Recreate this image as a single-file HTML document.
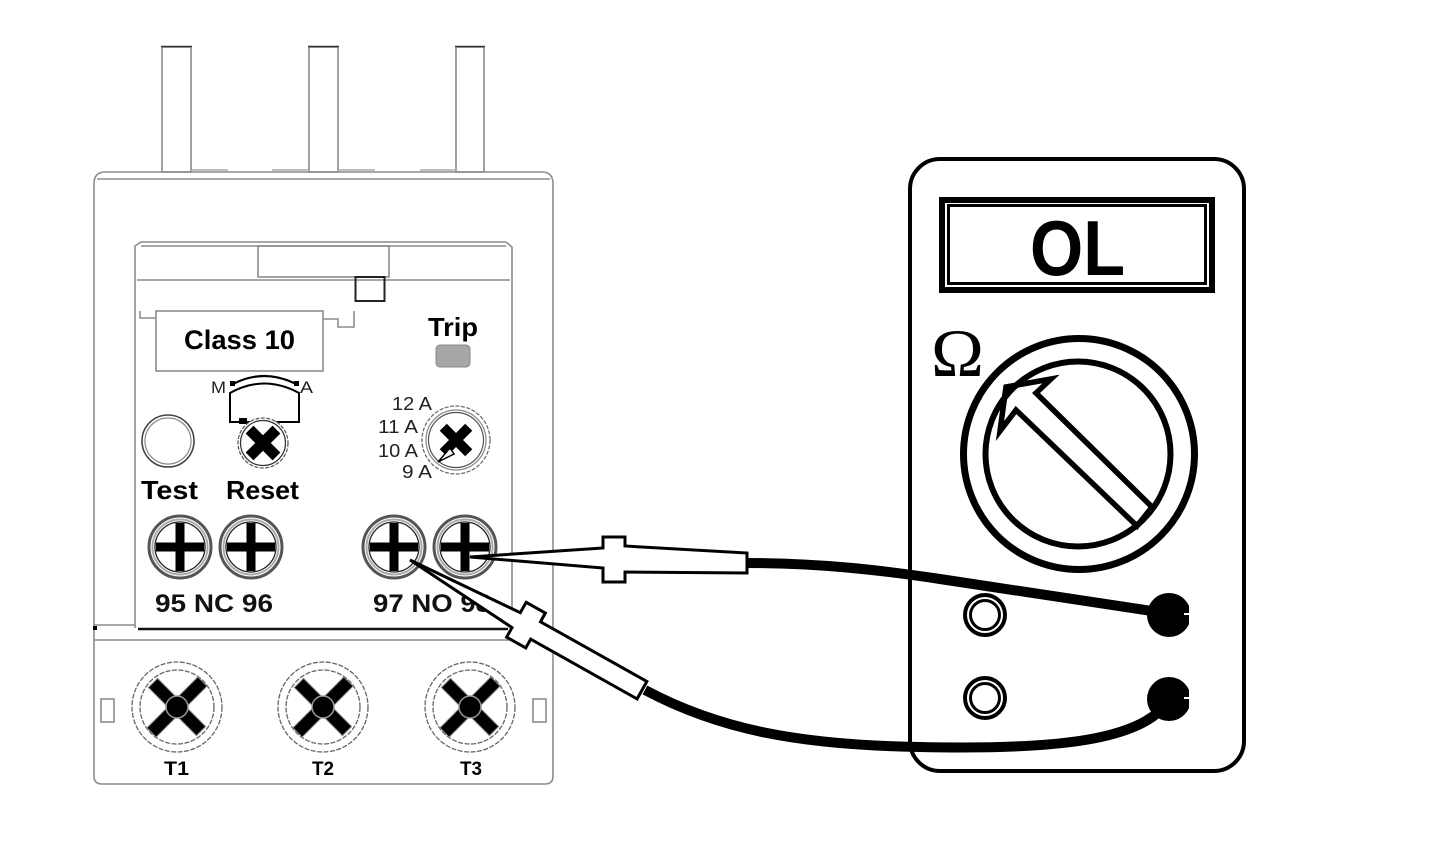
<!DOCTYPE html>
<html><head><meta charset="utf-8"><style>html,body{margin:0;padding:0;background:#fff;}svg{display:block;}</style></head>
<body>
<svg width="1445" height="844" viewBox="0 0 1445 844" xmlns="http://www.w3.org/2000/svg" font-family="Liberation Sans, sans-serif">
<defs>
  <g id="plus">
    <circle r="31" fill="#fff" stroke="#555" stroke-width="3"/>
    <circle r="27.5" fill="none" stroke="#aaa" stroke-width="2"/>
    <circle r="25" fill="none" stroke="#222" stroke-width="1.3"/>
    <rect x="-4.5" y="-24" width="9" height="48" fill="#000"/>
    <rect x="-24" y="-4.5" width="48" height="9" fill="#000"/>
  </g>
  <g id="tscrew">
    <circle r="45" fill="#fff" stroke="#666" stroke-width="1.3" stroke-dasharray="5 1.5"/>
    <circle r="37" fill="none" stroke="#666" stroke-width="1.3" stroke-dasharray="5 1.5"/>
    <g transform="rotate(45)" fill="#000" stroke="#888" stroke-width="1">
      <rect x="-6.5" y="-36" width="13" height="72"/>
      <rect x="-34" y="-6.5" width="68" height="13"/>
    </g>
    <circle r="11" fill="#000" stroke="#999" stroke-width="1.5"/>
  </g>
  <clipPath id="jackclip"><rect x="1100" y="560" width="89" height="200"/></clipPath>
</defs>
<rect width="1445" height="844" fill="#fff"/>

<!-- pins -->
<g fill="#fff" stroke="#8a8a8a" stroke-width="1.6">
  <rect x="162" y="47" width="29" height="125"/>
  <rect x="309" y="47" width="29" height="125"/>
  <rect x="456" y="47" width="28" height="125"/>
</g>
<g stroke="#333" stroke-width="1.5">
  <line x1="161" y1="46.5" x2="192" y2="46.5"/>
  <line x1="308" y1="46.5" x2="339" y2="46.5"/>
  <line x1="455" y1="46.5" x2="485" y2="46.5"/>
</g>
<g stroke="#aaa" stroke-width="1.5">
  <line x1="191" y1="170" x2="228" y2="170"/>
  <line x1="272" y1="170" x2="309" y2="170"/>
  <line x1="338" y1="170" x2="375" y2="170"/>
  <line x1="420" y1="170" x2="456" y2="170"/>
</g>

<!-- relay body -->
<g fill="none" stroke="#8c8c8c" stroke-width="1.6">
  <path d="M94,184 Q94,172 105,172 L542,172 Q553,172 553,184 L553,776 Q553,784 545,784 L102,784 Q94,784 94,776 Z"/>
  <line x1="97" y1="179" x2="550" y2="179"/>
  <path d="M135,628 L135,246 L141,242 L506,242 L512,247 L512,628"/>
  <line x1="141" y1="246" x2="506" y2="246"/>
  <line x1="137" y1="280" x2="510" y2="280"/>
  <rect x="258" y="246" width="131" height="31"/>
  <line x1="94" y1="625" x2="135" y2="625"/>
  <line x1="94" y1="640" x2="553" y2="640"/>
  <rect x="156" y="311" width="167" height="60"/>
  <polyline points="140,311 140,318 156,318"/>
  <polyline points="323,319 338,319 338,327 354,327 354,311"/>
  <rect x="101" y="699" width="13" height="23"/>
  <rect x="533" y="699" width="13" height="23"/>
</g>
<rect x="355.5" y="277" width="29" height="24" fill="none" stroke="#222" stroke-width="2"/>
<line x1="138" y1="629" x2="508" y2="629" stroke="#111" stroke-width="2.5"/>
<rect x="93" y="626" width="4" height="4" fill="#000"/>

<!-- labels top -->
<text x="184" y="349" font-size="27" font-weight="bold" textLength="111" lengthAdjust="spacingAndGlyphs">Class 10</text>
<text x="428" y="336" font-size="26" font-weight="bold" textLength="50" lengthAdjust="spacingAndGlyphs">Trip</text>
<rect x="436" y="345" width="34" height="22" rx="4" fill="#a6a6a6" stroke="#888" stroke-width="1"/>

<!-- M/A selector -->
<text x="211" y="393" font-size="17" textLength="15" lengthAdjust="spacingAndGlyphs" fill="#222">M</text>
<text x="300" y="393" font-size="17" textLength="13" lengthAdjust="spacingAndGlyphs" fill="#222">A</text>
<path d="M233,384 Q264,368 296,384" fill="none" stroke="#000" stroke-width="2.2"/>
<rect x="230" y="381" width="5" height="5" fill="#000"/>
<rect x="294" y="381" width="5" height="5" fill="#000"/>
<path d="M230,422 L230,393 Q264,374 299,393 L299,422 Z" fill="#fff" stroke="#000" stroke-width="2"/>
<rect x="239" y="418" width="8" height="6" fill="#000"/>

<!-- Test button -->
<circle cx="168" cy="441" r="26" fill="#fff" stroke="#444" stroke-width="1.6"/>
<circle cx="168" cy="441" r="23" fill="none" stroke="#888" stroke-width="1.2"/>

<!-- Reset screw -->
<g transform="translate(263,443)">
  <circle r="25" fill="#fff" stroke="#555" stroke-width="1.2" stroke-dasharray="4 1.5"/>
  <circle r="22.5" fill="none" stroke="#333" stroke-width="1.2"/>
  <g transform="rotate(45)" fill="#000">
    <rect x="-5.5" y="-19" width="11" height="38"/>
    <rect x="-19" y="-5.5" width="38" height="11"/>
  </g>
</g>

<!-- Dial -->
<text x="392" y="410" font-size="18" textLength="40" lengthAdjust="spacingAndGlyphs" fill="#222">12 A</text>
<text x="378" y="433" font-size="18" textLength="40" lengthAdjust="spacingAndGlyphs" fill="#222">11 A</text>
<text x="378" y="457" font-size="18" textLength="40" lengthAdjust="spacingAndGlyphs" fill="#222">10 A</text>
<text x="402" y="478" font-size="18" textLength="30" lengthAdjust="spacingAndGlyphs" fill="#222">9 A</text>
<g transform="translate(456,440)">
  <circle r="34" fill="#fff" stroke="#666" stroke-width="1.2" stroke-dasharray="4 1.5"/>
  <circle r="30" fill="none" stroke="#888" stroke-width="1.2"/>
  <circle r="27.5" fill="none" stroke="#555" stroke-width="1.2"/>
  <g transform="rotate(45)" fill="#000">
    <rect x="-5" y="-18" width="10" height="36"/>
    <rect x="-18" y="-5" width="36" height="10"/>
  </g>
  <polygon points="-6,8 -18,22 -2,14" fill="#fff" stroke="#000" stroke-width="1.5"/>
</g>

<text x="141" y="499" font-size="26" font-weight="bold" textLength="57" lengthAdjust="spacingAndGlyphs">Test</text>
<text x="226" y="499" font-size="26" font-weight="bold" textLength="73" lengthAdjust="spacingAndGlyphs">Reset</text>

<!-- plus terminals -->
<use href="#plus" x="180" y="547"/>
<use href="#plus" x="251" y="547"/>
<use href="#plus" x="394" y="547"/>
<use href="#plus" x="465" y="547"/>

<text x="155" y="612" font-size="25" font-weight="bold" textLength="118" lengthAdjust="spacingAndGlyphs" fill="#111">95 NC 96</text>
<text x="373" y="612" font-size="25" font-weight="bold" textLength="118" lengthAdjust="spacingAndGlyphs" fill="#111">97 NO 98</text>

<!-- T screws -->
<use href="#tscrew" x="177" y="707"/>
<use href="#tscrew" x="323" y="707"/>
<use href="#tscrew" x="470" y="707"/>
<text x="164" y="775" font-size="19" font-weight="bold" textLength="25" lengthAdjust="spacingAndGlyphs">T1</text>
<text x="312" y="775" font-size="19" font-weight="bold" textLength="22" lengthAdjust="spacingAndGlyphs">T2</text>
<text x="460" y="775" font-size="19" font-weight="bold" textLength="22" lengthAdjust="spacingAndGlyphs">T3</text>

<!-- Meter -->
<rect x="910" y="159" width="334" height="612" rx="30" ry="30" fill="#fff" stroke="#000" stroke-width="4"/>
<rect x="942" y="200" width="270" height="90" fill="none" stroke="#000" stroke-width="6"/>
<rect x="948.5" y="205.5" width="257" height="78" fill="none" stroke="#000" stroke-width="3"/>
<text x="1030" y="275" font-size="78" font-weight="bold" textLength="95" lengthAdjust="spacingAndGlyphs">OL</text>
<text x="931" y="376" font-size="68" font-family="Liberation Serif, serif" textLength="53" lengthAdjust="spacingAndGlyphs">Ω</text>

<circle cx="1079" cy="454" r="115.5" fill="none" stroke="#000" stroke-width="7"/>
<polygon points="1006,387 1051,379 1036,393 1152,507 1137,526 1016,410 1000,431" fill="#fff" stroke="#000" stroke-width="5.5" stroke-linejoin="miter"/>
<circle cx="1078" cy="454" r="92.5" fill="none" stroke="#000" stroke-width="6"/>

<!-- left jacks -->
<g fill="none" stroke="#000">
  <circle cx="985" cy="615" r="20" stroke-width="4"/>
  <circle cx="985" cy="615" r="14.5" stroke-width="3"/>
  <circle cx="985" cy="698" r="20" stroke-width="4"/>
  <circle cx="985" cy="698" r="14.5" stroke-width="3"/>
</g>

<!-- wires -->
<path d="M745,563 C820,563 880,570 940,579 L1165,613" fill="none" stroke="#000" stroke-width="10"/>
<path d="M645,690 C720,730 800,745 920,747 C1060,750 1140,740 1168,702" fill="none" stroke="#000" stroke-width="10"/>

<!-- right jacks -->
<g clip-path="url(#jackclip)" fill="#000">
  <circle cx="1169" cy="615" r="22"/>
  <circle cx="1169" cy="699" r="22"/>
</g>
<rect x="1184" y="613" width="5" height="2" fill="#fff"/>
<rect x="1184" y="697" width="5" height="2" fill="#fff"/>

<!-- probes -->
<polygon points="470,557 603,548 603,537 625,537 625,546 747,553 747,573 625,572 625,582 603,582 603,568" fill="#fff" stroke="#000" stroke-width="3" stroke-linejoin="miter"/>
<g transform="translate(410,560) rotate(29.3)">
  <polygon points="0,0 122,-8 122,-20 144,-20 144,-10 266,-10 266,10 144,10 144,20 122,20 122,9" fill="#fff" stroke="#000" stroke-width="3" stroke-linejoin="miter"/>
</g>
</svg>
</body>
</html>
